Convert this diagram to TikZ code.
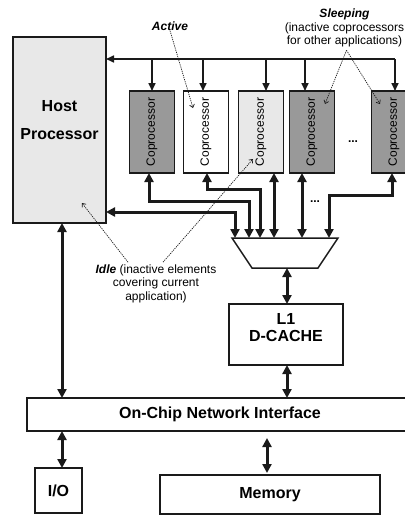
\documentclass[tikz,border=0pt]{standalone}
\usepackage{fontspec}
\setmainfont{Liberation Sans}
\usetikzlibrary{arrows.meta,calc}
\definecolor{lightg}{HTML}{E8E8E8}
\definecolor{darkg}{HTML}{999999}
\definecolor{ink}{HTML}{1A1A1A}
\begin{document}
\begin{tikzpicture}[x=1pt,y=-1pt,
  box/.style={draw=ink, line width=1.8pt, inner sep=0pt, outer sep=0pt},
  bigtxt/.style={font=\fontsize{16}{17}\selectfont\bfseries, align=center},
  hostbox/.style={box, fill=lightg, minimum width=93pt, minimum height=186pt},
  copbox/.style={box, minimum width=45pt, minimum height=82pt, font=\fontsize{12}{14}\selectfont},
  muxshape/.style={draw=ink, line width=1.5pt, line join=miter},
  annot/.style={font=\fontsize{12}{13.5}\selectfont, align=center, inner sep=0pt},
  ctrl/.style={draw=ink, line width=1.6pt, -{Triangle[length=8pt,width=7pt]}},
  bus/.style={draw=ink, line width=3pt, {Triangle[length=9pt,width=9pt]}-{Triangle[length=9pt,width=9pt]}},
  pointer/.style={draw=ink, line width=0.7pt, dash pattern=on 1.2pt off 1pt, -{Straight Barb[length=3pt,width=5pt]}}
]
\path[use as bounding box, clip] (0,0) rectangle (405,515);

% Host
\node[hostbox, font=\fontsize{16}{28}\selectfont\bfseries, align=center, text depth=20pt] (host) at (59.5,130) {Host\\Processor};

% Coprocessors
\node[copbox, fill=darkg] (cop1) at (152,132) {\rotatebox{90}{Coprocessor}};
\node[copbox, fill=white] (cop2) at (206,132) {\rotatebox{90}{Coprocessor}};
\node[copbox, fill=lightg] (cop3) at (261,132) {\rotatebox{90}{Coprocessor}};
\node[copbox, fill=darkg] (cop4) at (312,132) {\rotatebox{90}{Coprocessor}};
\node[copbox, fill=darkg] (cop5) at (394,132) {\rotatebox{90}{Coprocessor}};
\node[font=\fontsize{12}{14}\selectfont\bfseries] (dots1) at (353,142) {...};

% Mux (trapezoid)
\coordinate (muxTL) at (232,238);
\coordinate (muxTR) at (338,238);
\coordinate (muxBR) at (318,268);
\coordinate (muxBL) at (252,268);
\draw[muxshape] (muxTL) -- (muxTR) -- (muxBR) -- (muxBL) -- cycle;
\coordinate (muxout) at (287,268);

% Cache, network, I/O, memory
\node[box, bigtxt, minimum width=114pt, minimum height=61pt, text depth=14pt] (cache) at (286,334.5) {L1\\D-CACHE};
\node[box, bigtxt, minimum width=386pt, minimum height=33pt] (net) at (220,414.5) {On-Chip Network Interface};
\node[box, bigtxt, minimum width=47pt, minimum height=45pt] (io) at (58.5,490.5) {I/O};
\node[box, bigtxt, minimum width=220pt, minimum height=39pt] (mem) at (270,494.5) {Memory};

% Control bus
\coordinate (t1) at (152,59);
\coordinate (t2) at (203,59);
\coordinate (t3) at (266,59);
\coordinate (t4) at (305,59);
\coordinate (t5) at (395,59);
\draw[ctrl] (t5) -- (host.east |- t5);
\foreach \i in {1,...,5} { \draw[ctrl] (t\i) -- (t\i |- cop\i.north); }

% Data ports
\coordinate (u1) at (cop1.south -| 149,0);
\coordinate (u2) at (cop2.south -| 207,0);
\coordinate (u3) at (cop3.south -| 274,0);
\coordinate (u4) at (cop4.south -| 302,0);
\coordinate (u5) at (cop5.south -| 392,0);
\coordinate (b0) at (muxTL -| 235,0);
\coordinate (b1) at (muxTL -| 249,0);
\coordinate (b2) at (muxTL -| 260,0);
\coordinate (b3) at (muxTL -| 274,0);
\coordinate (b4) at (muxTL -| 302,0);
\coordinate (b5) at (muxTL -| 329,0);

\draw[bus] (host.east |- 0,212) -| (b0);
\draw[bus] (u1) -- (u1 |- 0,201) -| (b1);
\draw[bus] (u2) -- (u2 |- 0,189) -| (b2);
\draw[bus] (u3) -- (b3);
\draw[bus] (u4) -- (b4);
\draw[bus] (u5) -- (u5 |- 0,195) -| (b5);
\node[font=\fontsize{12}{14}\selectfont\bfseries] (dots2) at (315,202) {...};

\draw[bus] (muxout) -- (muxout |- cache.north);
\draw[bus] (cache.south -| muxout) -- (net.north -| muxout);
\draw[bus] (host.south -| 62,0) -- (net.north -| 62,0);
\draw[bus] (net.south -| 62,0) -- (io.north -| 62,0);
\draw[bus, shorten <=7pt, shorten >=2pt] (net.south -| 267,0) -- (mem.north -| 267,0);

% Annotations
\node[annot, font=\fontsize{12}{13.5}\selectfont\bfseries\itshape] (active) at (170,26) {Active};
\node[annot] (sleep) at (344.5,28) {{\bfseries\itshape Sleeping}\\(inactive coprocessors\\for other applications)};
\node[annot] (idle) at (156,283.5) {{\bfseries\itshape Idle} (inactive elements\\covering current\\application)};

\coordinate (pa) at (193,108);
\coordinate (ps1) at (325,104);
\coordinate (ps2) at (380,104);
\coordinate (pi1) at (82,203);
\coordinate (pi2) at (253,159);
\draw[pointer] (active.south) -- (pa);
\draw[pointer] ([xshift=2pt,yshift=-3pt]sleep.south) -- (ps1);
\draw[pointer] ([xshift=2pt,yshift=-3pt]sleep.south) -- (ps2);
\draw[pointer] ([xshift=-28pt,yshift=2pt]idle.north) -- (pi1);
\draw[pointer] ([xshift=7pt,yshift=2pt]idle.north) -- (pi2);
\end{tikzpicture}
\end{document}
